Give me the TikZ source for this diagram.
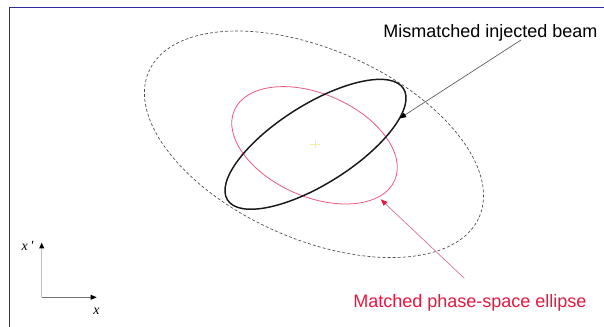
\documentclass[tikz,border=0pt]{standalone}
\usepackage{fontspec}
\setmainfont{Liberation Serif}
\newfontfamily\labelfont{Liberation Sans}
\usetikzlibrary{arrows.meta,shapes.geometric}
\definecolor{framec}{HTML}{2B2B9E}
\definecolor{pinkc}{HTML}{EC5A80}
\definecolor{redc}{HTML}{E8173F}
\definecolor{pinkline}{HTML}{D9708E}
\definecolor{crossc}{HTML}{F2F0A0}
\tikzset{
  ell/.style={ellipse, inner sep=0pt, outer sep=0pt},
  lbl/.style={font=\labelfont\fontsize{13.5pt}{15pt}\selectfont, inner sep=0pt, anchor=base west},
  axlab/.style={font=\itshape\fontsize{10.5pt}{12pt}\selectfont, inner sep=0pt}
}
\begin{document}
\begin{tikzpicture}[x=0.75pt,y=-0.75pt]
\useasboundingbox[fill=white] (0,0) rectangle (604,327);
% frame
\draw[framec, line width=1.2pt] (9.5,327) -- (9.5,7.6) -- (604,7.6);
% ellipses
\node[ell, draw=black!70, dashed, dash pattern=on 2.2pt off 1.6pt, line width=0.5pt,
      minimum width=270.8pt, minimum height=142.2pt, rotate=-23.8] (env) at (314,144.3) {};
\node[ell, draw=pinkc, line width=0.6pt,
      minimum width=131.2pt, minimum height=77.1pt, rotate=-23.6] (matched) at (314.5,145.3) {};
\node[ell, draw=black!90, line width=1.1pt,
      minimum width=156.2pt, minimum height=59.4pt, rotate=32.3] (beam) at (315.5,144.3) {};
% centre cross
\coordinate (c) at (315,144.5);
\draw[crossc, line width=0.5pt] ([xshift=-3.75pt]c) -- ([xshift=3.75pt]c);
\draw[crossc, line width=0.5pt] ([yshift=-3pt]c) -- ([yshift=3pt]c);
% labels
\node[lbl, text=black] (mis) at (383,37.7) {Mismatched injected beam};
\node[lbl, text=redc] (mat) at (353,307.7) {Matched phase-space ellipse};
% arrows
\coordinate (misstart) at (521,40);
\coordinate (mistip) at (399.5,118.5);
\draw[black!65, line width=0.5pt, -{Triangle[length=5pt,width=3.8pt,fill=black,color=black]}] (misstart) -- (mistip);
\coordinate (matstart) at (464.3,278.3);
\coordinate (mattip) at (380.7,199.3);
\draw[pinkline, line width=0.5pt, -{Triangle[length=5pt,width=3.8pt,fill=redc,color=redc]}] (matstart) -- (mattip);
% axes
\coordinate (o) at (41.7,297.3);
\coordinate (xend) at (96.7,297.3);
\coordinate (yend) at (41.7,242.5);
\draw[black!25, line width=1pt, -{Triangle[length=4.5pt,width=3.6pt,fill=black,color=black]}] (o) -- (yend);
\draw[black!55, line width=0.8pt, -{Triangle[length=4.5pt,width=3.6pt,fill=black,color=black]}] (o) -- (xend);
\node[axlab] (xp) at (27.5,246) {x\,\textquotesingle};
\node[axlab] (xl) at (96.5,311.5) {x};
\end{tikzpicture}
\end{document}
